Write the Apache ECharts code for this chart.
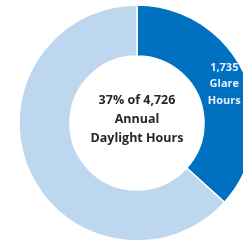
<!DOCTYPE html>
<html>
<head>
<meta charset="utf-8">
<style>
  html, body { margin: 0; padding: 0; background: #fff; }
  #chart { width: 243px; height: 244px; }
</style>
<script src="https://cdn.jsdelivr.net/npm/echarts@6/dist/echarts.min.js"></script>
</head>
<body>
<div id="chart"></div>
<script>
// donut: glare hours vs the rest of the daylight hours
var categories = ['Glare Hours', 'Other Daylight Hours'];
var values = [1735, 2991];
var colors = ['#0070c0', '#bdd7ee'];
var centerLines = ['37% of 4,726', 'Annual', 'Daylight Hours'];

function fmt(n) {
    return String(n).replace(/\B(?=(\d{3})+(?!\d))/g, ',');
}

var chart = echarts.init(document.getElementById('chart'), null, { renderer: 'canvas' });

var data = [];
for (var i = 0; i < categories.length; i++) {
    data.push({
        name: categories[i],
        value: values[i],
        itemStyle: { color: colors[i] },
        label: { show: i === 0 }
    });
}

var option = {
    animation: false,
    series: [{
        type: 'pie',
        center: [137, 123],
        radius: [67, 118],
        startAngle: 90,
        clockwise: true,
        silent: true,
        itemStyle: { borderColor: '#fff', borderWidth: 1.5 },
        label: {
            position: 'inside',
            color: '#e8f1fa',
            fontFamily: 'Open Sans',
            fontWeight: 'bold',
            fontSize: 11,
            lineHeight: 16.5,
            formatter: function(p) {
                var parts = p.name.split(' ');
                return fmt(p.value) + '\n' + parts[0] + '\n' + parts[1];
            }
        },
        labelLine: { show: false },
        data: data
    }],
    graphic: [{
        type: 'text',
        x: 137,
        y: 119,
        style: {
            text: centerLines.join('\n'),
            align: 'center',
            verticalAlign: 'middle',
            fill: '#262626',
            font: 'bold 12.5px "Open Sans"',
            lineHeight: 19
        }
    }]
};

chart.setOption(option);
</script>
</body>
</html>
